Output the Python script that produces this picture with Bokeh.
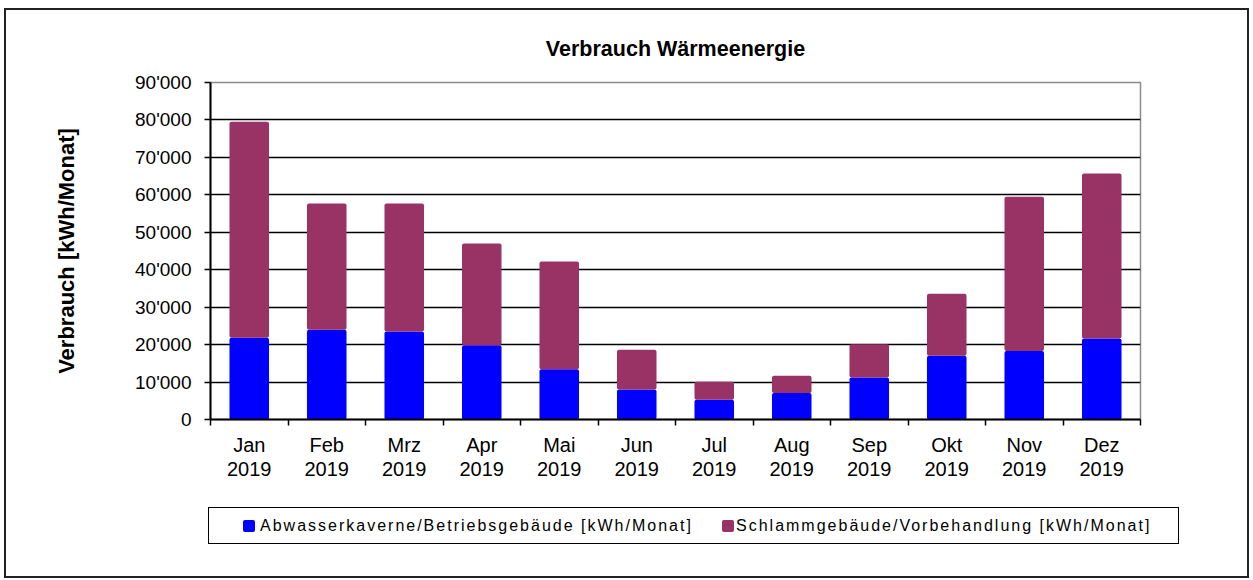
from bokeh.plotting import figure
from bokeh.models import FixedTicker, Range1d, Div
from bokeh.layouts import column
from bokeh.embed import file_html
from bokeh.resources import INLINE

months = ["Jan", "Feb", "Mrz", "Apr", "Mai", "Jun", "Jul", "Aug", "Sep", "Okt", "Nov", "Dez"]
year = "2019"
abwasser = [21800, 24000, 23500, 19800, 13400, 8000, 5300, 7100, 11200, 17000, 18300, 21600]
schlamm = [57700, 33700, 34200, 27200, 28800, 10600, 4800, 4600, 8900, 16600, 41200, 44100]
y_ticks = [0, 10000, 20000, 30000, 40000, 50000, 60000, 70000, 80000, 90000]
y_tick_labels = ["0", "10'000", "20'000", "30'000", "40'000", "50'000", "60'000", "70'000", "80'000", "90'000"]
series_names = ["Abwasserkaverne/Betriebsgebäude [kWh/Monat]", "Schlammgebäude/Vorbehandlung [kWh/Monat]"]
colors = ["#0000FF", "#993366"]

FONT = "Liberation Sans"
W = 1241

x_centers = [i + 0.5 for i in range(len(months))]

p = figure(width=W, height=480, output_backend="svg", toolbar_location=None,
           x_range=Range1d(0, len(months)), y_range=Range1d(0, 90000),
           title="Verbrauch Wärmeenergie")
p.min_border_left = 204
p.min_border_right = 107
p.min_border_top = 72
p.min_border_bottom = 71

p.title.align = "center"
p.title.text_font = FONT
p.title.text_font_size = "21.5px"
p.title.text_font_style = "bold"
p.title.text_color = "black"
p.title.standoff = 44

src = {"x": x_centers, "a": abwasser, "s": schlamm}
rs = p.vbar_stack(["a", "s"], x="x", width=0.51, source=src, color=colors,
                  line_color=None, border_radius=2)

# grid
p.xgrid.visible = False
p.ygrid.ticker = FixedTicker(ticks=y_ticks[1:-1])
p.ygrid.grid_line_color = "black"
p.ygrid.grid_line_width = 1.5
p.outline_line_color = "#8c8c8c"
p.outline_line_width = 1.5

# y axis
ya = p.yaxis[0]
ya.ticker = FixedTicker(ticks=y_ticks)
ya.major_label_overrides = {t: l for t, l in zip(y_ticks, y_tick_labels)}
ya.axis_line_color = "black"
ya.axis_line_width = 2
ya.major_tick_line_color = "black"
ya.major_tick_line_width = 1.5
ya.major_tick_in = 0
ya.major_tick_out = 6
ya.minor_tick_line_color = None
ya.major_label_text_font = FONT
ya.major_label_text_font_size = "19px"
ya.major_label_text_color = "black"
ya.major_label_standoff = 13
ya.axis_label = "Verbrauch [kWh/Monat]"
ya.axis_label_text_font = FONT
ya.axis_label_text_font_size = "22px"
ya.axis_label_text_font_style = "bold"
ya.axis_label_text_color = "black"
ya.axis_label_standoff = 53

# x axis
xa = p.xaxis[0]
xa.ticker = FixedTicker(ticks=x_centers, minor_ticks=list(range(len(months) + 1)))
xa.major_label_overrides = {c: f"{m}\n{year}" for c, m in zip(x_centers, months)}
xa.axis_line_color = "black"
xa.axis_line_width = 2
xa.major_tick_line_color = None
xa.major_tick_in = 0
xa.major_tick_out = 0
xa.minor_tick_line_color = "black"
xa.minor_tick_line_width = 1.5
xa.minor_tick_in = 0
xa.minor_tick_out = 6
xa.major_label_text_font = FONT
xa.major_label_text_font_size = "20px"
xa.major_label_text_color = "black"
xa.major_label_standoff = 8
xa.major_label_text_line_height = 1.1

# legend strip (HTML)
sq = "position:absolute;top:12px;width:12px;height:12px;border-radius:2px;"
txt = ("position:absolute;top:0;line-height:35px;white-space:nowrap;"
       "font-family:'Liberation Sans',Arial,sans-serif;font-size:16px;letter-spacing:2px;color:black;")
html = (
    '<div style="position:relative;width:%dpx;height:86px;">'
    '<div style="position:absolute;left:202px;top:17px;width:971px;height:37px;box-sizing:border-box;'
    'border:1.5px solid black;background:white;">'
    '<span style="%sleft:34px;background:%s;"></span>'
    '<span style="%sleft:51px;">%s</span>'
    '<span style="%sleft:513px;background:%s;"></span>'
    '<span style="%sleft:527px;">%s</span>'
    '</div></div>'
) % (W, sq, colors[0], txt, series_names[0], sq, colors[1], txt, series_names[1])
legend_div = Div(text=html, width=W, height=86, margin=0)

layout = column(p, legend_div, spacing=0)
layout.styles = {"border": "2px solid #222222", "margin-left": "4px", "margin-top": "8px"}

open("out.html", "w").write(file_html(layout, INLINE))
